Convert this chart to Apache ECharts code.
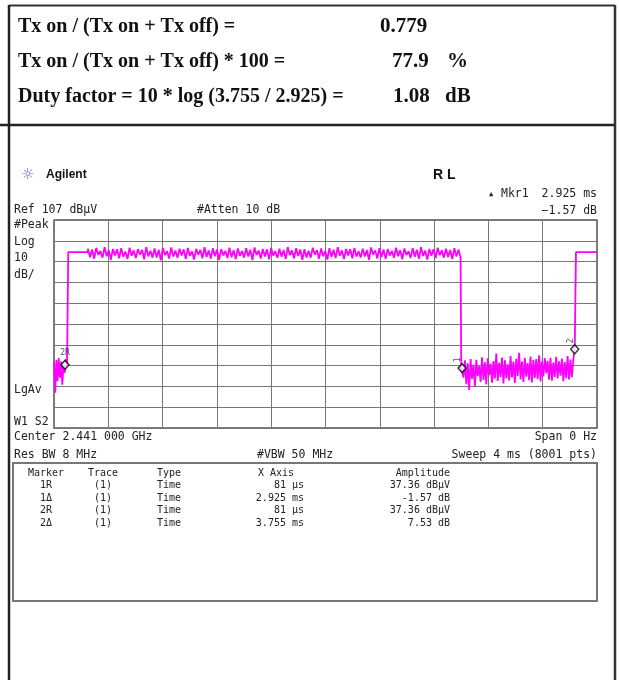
<!DOCTYPE html>
<html>
<head>
<meta charset="utf-8">
<script src="https://cdn.jsdelivr.net/npm/echarts@6/dist/echarts.min.js"></script>
<style>html,body{margin:0;padding:0;background:#fff}#c{width:619px;height:680px}</style>
</head>
<body>
<div id="c"></div>
<script>
// ---- summary text ----
const summaryLabels = ['Tx on / (Tx on + Tx off) =', 'Tx on / (Tx on + Tx off) * 100 =', 'Duty factor = 10 * log (3.755 / 2.925) ='];
const summaryValues = ['0.779', '77.9', '1.08'];
const summaryUnits = ['', '%', 'dB'];

// ---- instrument settings ----
const refLevel = 107;        // dBuV (top of screen)
const dbPerDiv = 10;
const sweepMs = 4;           // ms span of time axis
const xDivs = 10, yDivs = 10;

// ---- trace readings (dBuV) ----
const preNoiseStart = 0, preNoiseEnd = 0.096;
const preNoise = [38.5, 24.0, 39.8, 29.5, 40.6, 31.2, 38.9, 27.8, 37.4, 33.5, 40.1, 36.8];
const rise1Time = 0.105;
const flatLevel = 91.6;
const burstStart = 0.25, burstEnd = 2.995;
const highBand = [
93.2, 89.1, 92.8, 88.4, 93.6, 90.2, 92.1, 88.9, 93.9, 89.6, 92.5, 87.8, 93.1, 90.0, 92.9, 88.6, 93.4, 89.3, 91.8, 88.2,
93.7, 89.8, 92.4, 88.7, 93.0, 90.4, 92.6, 88.1, 94.0, 89.5, 92.2, 88.9, 93.3, 89.0, 92.7, 87.6, 93.5, 90.1, 92.0, 88.5,
93.8, 89.4, 92.3, 88.8, 93.2, 89.9, 92.9, 88.3, 93.6, 89.7, 91.9, 88.0, 93.1, 90.3, 92.6, 88.6, 93.9, 89.2, 92.4, 88.4,
93.4, 89.6, 92.8, 87.9, 93.0, 90.0, 92.2, 88.7, 93.7, 89.1, 92.5, 88.2, 93.3, 89.8, 92.1, 88.9, 93.5, 89.4, 92.7, 87.7,
93.8, 90.2, 92.3, 88.5, 93.1, 89.5, 92.9, 88.1, 93.6, 89.9, 92.0, 88.8, 93.2, 89.3, 92.6, 88.3, 94.0, 90.1, 92.4, 88.6,
93.4, 89.7, 92.8, 87.8, 93.0, 89.0, 92.2, 88.9, 93.7, 90.4, 92.5, 88.4, 93.3, 89.6, 92.1, 88.0, 93.5, 89.2, 92.7, 88.7,
93.9, 89.8, 92.3, 88.2, 93.1, 90.0, 92.9, 88.6, 93.6, 89.4, 91.9, 88.9, 93.2, 89.5, 92.6, 87.9, 93.8, 90.3, 92.4, 88.5,
93.4, 89.1, 92.8, 88.3, 93.0, 89.9, 92.2, 88.8, 93.7, 89.6, 92.5, 88.1, 93.3, 90.2, 92.0, 88.7, 93.5, 89.3, 92.7, 88.4,
93.9, 89.7, 92.3, 88.0, 93.1, 89.8, 92.9, 88.6, 93.6, 90.1, 92.4, 88.9, 93.2, 89.2, 92.6, 88.2, 93.4, 89.5, 92.8, 89.0];
const fallTime = 3.0;
const lowStart = 3.006, lowEnd = 3.836;
const lowBand = [
35.8, 31.2, 39.5, 28.0, 38.1, 25.3, 40.2, 30.6, 37.4, 27.1, 39.8, 31.9, 36.7, 29.2, 41.0, 30.1, 38.6, 27.9, 40.5, 32.4,
37.9, 28.8, 39.2, 30.7, 42.8, 29.6, 38.3, 31.5, 40.9, 28.4, 39.6, 30.9, 37.6, 29.9, 41.7, 31.3, 38.8, 28.6, 40.3, 32.0,
43.1, 30.4, 39.0, 29.1, 40.8, 31.7, 38.2, 30.0, 41.4, 28.9, 39.7, 31.1, 40.1, 30.5, 41.9, 29.4, 38.9, 31.8, 40.6, 33.4,
39.3, 30.2, 40.7, 29.8, 38.4, 31.6, 41.2, 30.8, 39.1, 32.2, 40.4, 29.5, 38.7, 31.0, 41.6, 30.3, 39.9, 31.4, 40.0, 44.9];
const rise2Time = 3.845;
const endLevel = 91.6;

// ---- markers ----
const markerTimes = [0.081, 3.006, 3.836];
const markerAmps = [37.36, 35.79, 44.89];
const markerTags = ['2R', '1', '2'];

// ---- marker table ----
const tblMarker = ['1R', '1\u0394', '2R', '2\u0394'];
const tblTrace = ['(1)', '(1)', '(1)', '(1)'];
const tblType = ['Time', 'Time', 'Time', 'Time'];
const tblX = ['81 \u00b5s', '2.925 ms', '81 \u00b5s', '3.755 ms'];
const tblAmp = ['37.36 dB\u00b5V', '-1.57 dB', '37.36 dB\u00b5V', '7.53 dB'];

// ---- build trace ----
function seg(arr, t0, t1) {
  const n = arr.length;
  return arr.map((v, i) => [t0 + i * (t1 - t0) / (n - 1), v]);
}
const trace = [];
trace.push(...seg(preNoise, preNoiseStart, preNoiseEnd));
trace.push([rise1Time, preNoise[preNoise.length - 1]]);
trace.push([rise1Time, flatLevel]);
trace.push([burstStart, flatLevel]);
trace.push(...seg(highBand, burstStart, burstEnd));
trace.push([fallTime, highBand[highBand.length - 1]]);
trace.push([fallTime, lowBand[0]]);
trace.push(...seg(lowBand, lowStart, lowEnd));
trace.push([rise2Time, lowBand[lowBand.length - 1]]);
trace.push([rise2Time, endLevel]);
trace.push([sweepMs, endLevel]);

const markerData = markerTimes.map((t, i) => ({
  value: [t, markerAmps[i]],
  label: {
    show: true, formatter: markerTags[i], position: 'top', distance: 3,
    fontSize: 8, fontFamily: 'DejaVu Sans Mono', color: '#222',
    rotate: i === 0 ? 0 : 90
  }
}));

// ---- graphics ----
const G = [];
const MONO = 'DejaVu Sans Mono';
function txt(x, y, s, o) {
  o = o || {};
  G.push({
    type: 'text', x: x, y: y, z: 10,
    style: {
      text: s, fill: o.fill || '#222',
      font: (o.weight || 'normal') + ' ' + (o.size || 11.5) + 'px ' + (o.family || ('"' + MONO + '"')),
      textAlign: o.align || 'left', textVerticalAlign: 'middle'
    }
  });
}
function ln(x1, y1, x2, y2, w, c) {
  G.push({ type: 'line', z: 5, shape: { x1, y1, x2, y2 }, style: { stroke: c || '#222', lineWidth: w || 2 } });
}
// outer frame
ln(9, 5.5, 615, 5.5, 2, '#333');
ln(0, 125, 615, 125, 2.5, '#222');
ln(9, 5, 9, 680, 2.5, '#222');
ln(615, 5, 615, 680, 2.5, '#333');

// summary
const serif = '"Liberation Serif", "Times New Roman", serif';
const rowsY = [27, 62, 97];
summaryLabels.forEach((s, i) => txt(18, rowsY[i], s, { size: 20, weight: 'bold', family: serif, fill: '#111' }));
const valX = [380, 392, 393];
summaryValues.forEach((s, i) => txt(valX[i], rowsY[i], s, { size: 21, weight: 'bold', family: serif, fill: '#111' }));
const unitX = [0, 447, 445];
summaryUnits.forEach((s, i) => { if (s) txt(unitX[i], rowsY[i], s, { size: 21, weight: 'bold', family: serif, fill: '#111' }); });

// instrument header
txt(21, 175, '\u263c', { size: 15, family: '"DejaVu Sans"', fill: '#5a64e0' });
txt(46, 175, 'Agilent', { size: 12, weight: 'bold', family: '"Liberation Sans", Arial, sans-serif', fill: '#111' });
txt(433, 175, 'R L', { size: 14, weight: 'bold', family: '"Liberation Sans", Arial, sans-serif', fill: '#111' });
txt(489, 194, '\u25b2', { size: 7 });
txt(501, 194, 'Mkr1');
txt(597, 194, '2.925 ms', { align: 'right' });
txt(597, 211, '\u22121.57 dB', { align: 'right' });
txt(14, 210, 'Ref 107 dB\u00b5V');
txt(197, 210, '#Atten 10 dB');
txt(14, 225, '#Peak');
txt(14, 242, 'Log');
txt(14, 258, '10');
txt(14, 275, 'dB/');
txt(14, 390, 'LgAv');
txt(14, 422, 'W1 S2');
txt(14, 437, 'Center 2.441 000 GHz');
txt(597, 437, 'Span 0 Hz', { align: 'right' });
txt(14, 455, 'Res BW 8 MHz');
txt(257, 455, '#VBW 50 MHz');
txt(597, 455, 'Sweep 4 ms (8001 pts)', { align: 'right' });

// marker table
G.push({ type: 'rect', z: 5, shape: { x: 13, y: 463, width: 584, height: 138 }, style: { fill: 'none', stroke: '#777', lineWidth: 2 } });
const tf = { size: 10 };
txt(46, 473, 'Marker', { size: 10, align: 'center' });
txt(88, 473, 'Trace', tf);
txt(157, 473, 'Type', tf);
txt(258, 473, 'X Axis', tf);
txt(450, 473, 'Amplitude', { size: 10, align: 'right' });
const tblY = [485.5, 498, 510.5, 523];
tblMarker.forEach((s, i) => {
  txt(46, tblY[i], s, { size: 10, align: 'center' });
  txt(94, tblY[i], tblTrace[i], tf);
  txt(157, tblY[i], tblType[i], tf);
  txt(304, tblY[i], tblX[i], { size: 10, align: 'right' });
  txt(450, tblY[i], tblAmp[i], { size: 10, align: 'right' });
});

const chart = echarts.init(document.getElementById('c'), null, { renderer: 'canvas' });
chart.setOption({
  animation: false,
  backgroundColor: '#fff',
  grid: { left: 54, top: 220, width: 543, height: 208, show: true, borderColor: '#555', borderWidth: 1.5 },
  xAxis: {
    type: 'value', min: 0, max: sweepMs, interval: sweepMs / xDivs,
    axisLine: { show: false }, axisTick: { show: false }, axisLabel: { show: false },
    splitLine: { show: true, lineStyle: { color: '#777', width: 1 } }
  },
  yAxis: [
    { type: 'value', min: refLevel - dbPerDiv * yDivs, max: refLevel,
      axisLine: { show: false }, axisTick: { show: false }, axisLabel: { show: false }, splitLine: { show: false } },
    { type: 'value', min: 0, max: yDivs, interval: 1,
      axisLine: { show: false }, axisTick: { show: false }, axisLabel: { show: false },
      splitLine: { show: true, lineStyle: { color: '#777', width: 1 } } }
  ],
  series: [
    { type: 'line', data: trace, yAxisIndex: 0, showSymbol: false, sampling: null,
      lineStyle: { color: '#ff00ff', width: 1.8 }, z: 3 },
    { type: 'scatter', data: markerData, yAxisIndex: 0, symbol: 'diamond', symbolSize: [8, 9],
      itemStyle: { color: '#fff', borderColor: '#000', borderWidth: 1.5 }, z: 4 }
  ],
  graphic: G
});
</script>
</body>
</html>
